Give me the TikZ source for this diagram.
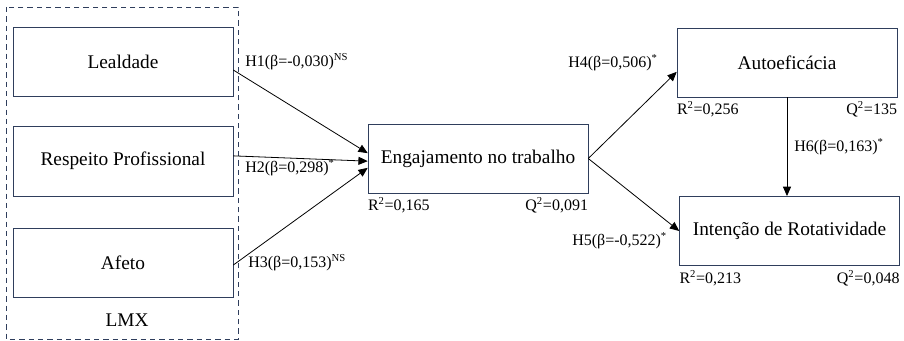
\documentclass[tikz,border=0pt]{standalone}
\usepackage{fontspec}
\setmainfont{Liberation Serif}
\usetikzlibrary{positioning}
\usetikzlibrary{arrows.meta}
\definecolor{navy}{RGB}{47,62,92}

\begin{document}
\begin{tikzpicture}[x=0.75pt, y=-0.75pt]
    \tikzstyle{box}=[draw=navy, minimum width=165pt, minimum height=52pt, font=\fontsize{14.5}{16}\selectfont]
    \tikzstyle{coef}=[font=\fontsize{12}{14}\selectfont, inner sep=0pt]
    \tikzstyle{seta}=[-{Triangle[length=7pt,width=6pt]}, black, line width=0.6pt]

    \useasboundingbox (0,0) rectangle (904,341);

    \draw[navy, dash pattern=on 4pt off 3pt] (6,7) rectangle (238,339);

    \node[box] (leal) at (123,62) {Lealdade};
    \node[box, below=22pt of leal] (resp) {Respeito Profissional};
    \node[box, below=24pt of resp] (afeto) {Afeto};
    \node[font=\fontsize{14.5}{16}\selectfont] (lmx) at (127,320) {LMX};

    \node[box] (eng) at (478,158.5) {Engajamento no trabalho};
    \node[box] (auto) at (787,62.5) {Autoeficácia};
    \node[box] (int) at (789.5,231) {Intenção de Rotatividade};

    \draw[seta] ([yshift=-6pt]leal.east) -- ([yshift=4pt]eng.west);
    \draw[seta] ([yshift=4pt]resp.east) -- ([yshift=-2pt]eng.west);
    \draw[seta] ([yshift=-1.5pt]afeto.east) -- ([yshift=-7pt]eng.west);
    \draw[seta] (eng.east) -- ([yshift=-7pt]auto.west);
    \draw[seta] (eng.east) -- (int.west);
    \draw[seta] (auto.south) -- (auto.south |- int.north);

    \node[coef, anchor=west] (h1) at (245,62) {H1(β=-0,030)\textsuperscript{NS}};
    \node[coef, anchor=west] (h2) at (245,168) {H2(β=0,298)\textsuperscript{*}};
    \node[coef, anchor=west] (h3) at (248,263) {H3(β=0,153)\textsuperscript{NS}};
    \node[coef, anchor=west] (h4) at (568,63) {H4(β=0,506)\textsuperscript{*}};
    \node[coef, anchor=west] (h5) at (572,241) {H5(β=-0,522)\textsuperscript{*}};
    \node[coef, anchor=west] (h6) at (794,147) {H6(β=0,163)\textsuperscript{*}};

    \node[coef, anchor=north west, yshift=-3pt] (reng) at (eng.south west) {R\textsuperscript{2}=0,165};
    \node[coef, anchor=north east, yshift=-3pt] (qeng) at (eng.south east) {Q\textsuperscript{2}=0,091};
    \node[coef, anchor=north west, yshift=-3pt] (rauto) at (auto.south west) {R\textsuperscript{2}=0,256};
    \node[coef, anchor=north east, yshift=-3pt] (qauto) at (auto.south east) {Q\textsuperscript{2}=135};
    \node[coef, anchor=north west, yshift=-3pt] (rint) at (int.south west) {R\textsuperscript{2}=0,213};
    \node[coef, anchor=north east, yshift=-3pt] (qint) at (int.south east) {Q\textsuperscript{2}=0,048};
\end{tikzpicture}
\end{document}
